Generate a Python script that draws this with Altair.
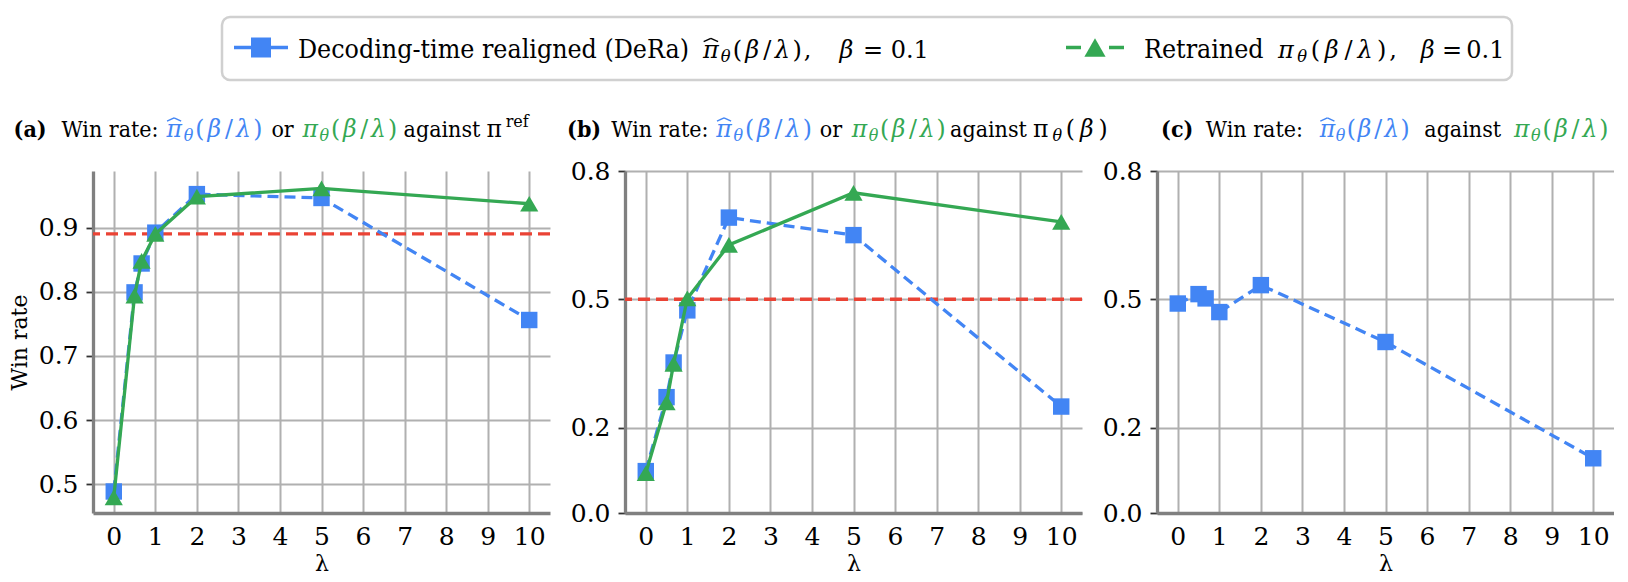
import altair as alt
import pandas as pd

# ---------------- data ----------------
lam = [0, 0.5, 0.67, 1, 2, 5, 10]
a_dera = [0.489, 0.799, 0.844, 0.892, 0.952, 0.946, 0.756]
a_retr = [0.480, 0.794, 0.848, 0.890, 0.948, 0.961, 0.937]
a_base = 0.890
b_dera = [0.098, 0.271, 0.352, 0.474, 0.691, 0.650, 0.249]
b_retr = [0.093, 0.259, 0.349, 0.502, 0.627, 0.749, 0.681]
b_base = 0.5
c_dera = [0.490, 0.512, 0.502, 0.470, 0.533, 0.400, 0.128]
x_ticks = list(range(11))
a_yticks = [0.5, 0.6, 0.7, 0.8, 0.9]
bc_yticks = [0.0, 0.2, 0.5, 0.8]
a_ydomain = [0.4555, 0.988]
bc_ydomain = [0.0, 0.8]

# ---------------- style ----------------
BLUE, GREEN, RED = "#4285F4", "#34A853", "#EA4335"
FONT = "DejaVu Serif"
FONT_W = "DejaVu Serif Condensed"
W, H = 457, 342
OX, OY = 93, 171          # page position of panel (a) plot origin

one = pd.DataFrame({"d": [0]})

words, words_b, g_it, g_up, hats = [], [], [], [], []


def word(t, x, base, size, bold=False, color="#000000"):
    (words_b if bold else words).append(dict(t=t, x=x - OX, y=base - OY, fs=size, c=color))


def math(parts, x0, x1, base, size, color="#000000"):
    tot = sum(w for _, k, w in parts if k != "hat")
    k_ = (x1 - x0) / tot
    x = x0
    last = None
    for t, kind, w in parts:
        if kind == "hat":
            hw, top, low = 0.30 * size, base - 0.80 * size, base - 0.66 * size
            hats.append(dict(x=last - hw - OX, y=low - OY, x2=last - OX, y2=top - OY, c=color))
            hats.append(dict(x=last - OX, y=top - OY, x2=last + hw - OX, y2=low - OY, c=color))
            continue
        cx = x + w * k_ / 2
        x += w * k_
        if kind == "gap":
            continue
        if kind == "sub":
            g_it.append(dict(t=t, x=cx - OX, y=base + 0.2 * size - OY, fs=size * 0.68, c=color))
        elif kind == "sup":
            g_up.append(dict(t=t, x=cx - OX, y=base - 0.42 * size - OY, fs=size * 0.68, c=color))
        elif kind == "it":
            g_it.append(dict(t=t, x=cx - OX, y=base - OY, fs=size, c=color))
        else:
            g_up.append(dict(t=t, x=cx - OX, y=base - OY, fs=size, c=color))
        last = cx


PIHAT = [("π", "it", .6), ("^", "hat", 0), ("θ", "sub", .4), ("(", "up", .4), ("β", "it", .6),
         ("/", "up", .42), ("λ", "it", .6), (")", "up", .4)]
PI = [p for p in PIHAT if p[1] != "hat"]
COMMA = [(",", "up", .3)]
BETA = [("β", "it", .6), ("", "gap", .25), ("=", "up", .8), ("", "gap", .25), ("0.1", "up", 1.3)]
PIREF = [("π", "up", .6), ("ref", "sup", .75)]
PIB = [("π", "up", .6), ("θ", "sub", .4), ("(", "up", .4), ("β", "it", .6), (")", "up", .4)]

# legend texts
LB, LS, LM = 57.5, 26.5, 24
word("Decoding-time realigned (DeRa)", 298, LB, LS)
math(PIHAT + COMMA, 702, 812, LB, LM)
math(BETA, 838, 928, LB, LM)
word("Retrained", 1144, LB, LS)
math(PI + COMMA, 1276, 1398, LB, LM)
math(BETA, 1420, 1502, LB, LM)

# panel titles
TB, TS, TM = 136.7, 23, 23.5
word("(a)", 13.6, TB, TS, bold=True)
word("Win rate:", 61.4, TB, TS)
math(PIHAT, 165.5, 263.6, TB, TM, BLUE)
word("or", 271.4, TB, TS)
math(PI, 301.8, 398.2, TB, TM, GREEN)
word("against", 403.6, TB, TS)
math(PIREF, 484, 530, TB, TM)

word("(b)", 567.1, TB, TS, bold=True)
word("Win rate:", 611.3, TB, TS)
math(PIHAT, 715.5, 812.9, TB, TM, BLUE)
word("or", 819.8, TB, TS)
math(PI, 851.1, 946.7, TB, TM, GREEN)
word("against", 950.1, TB, TS)
math(PIB, 1031, 1109.7, TB, TM)

word("(c)", 1161.1, TB, TS, bold=True)
word("Win rate:", 1205.8, TB, TS)
math(PIHAT, 1319.4, 1410.3, TB, TM, BLUE)
word("against", 1424.3, TB, TS)
math(PI, 1513.4, 1609.5, TB, TM, GREEN)


def text_layer(rows, font, **kw):
    return alt.Chart(pd.DataFrame(rows)).mark_text(font=font, baseline="alphabetic", **kw).encode(
        x=alt.X("x:Q", scale=None, axis=None),
        y=alt.Y("y:Q", scale=None, axis=None),
        text=alt.Text("t:N"),
        color=alt.Color("c:N", scale=None),
        size=alt.Size("fs:Q", scale=None),
    )


hat_layer = alt.Chart(pd.DataFrame(hats)).mark_rule(strokeWidth=1.4).encode(
    x=alt.X("x:Q", scale=None, axis=None), x2="x2:Q",
    y=alt.Y("y:Q", scale=None, axis=None), y2="y2:Q",
    color=alt.Color("c:N", scale=None))


def panel(series, ydomain, yticks, base=None, ytitle="", extra=()):
    xenc = alt.X("lam:Q", scale=alt.Scale(domain=[-0.5, 10.5], nice=False, zero=False),
                 axis=alt.Axis(values=x_ticks, format="d", title="λ", tickSize=0, labelPadding=11,
                               labelBaseline="top", titleX=W / 2, titleY=57.5, titleFontSize=22,
                               titleBaseline="alphabetic", titleAlign="center"))
    yax = dict(values=yticks, format=".1f", title=ytitle, tickSize=7, labelPadding=8)
    if ytitle:
        yax.update(titleX=-67, titleY=H / 2, titleBaseline="alphabetic", titleAlign="center",
                   titleFontSize=22)
    yenc = alt.Y("v:Q", scale=alt.Scale(domain=ydomain, nice=False, zero=False),
                 axis=alt.Axis(**yax))
    layers = []
    if base is not None:
        layers.append(alt.Chart(pd.DataFrame({"v": [base]})).mark_rule(
            color=RED, strokeWidth=3.3, strokeDash=[12, 6]).encode(y=yenc))
    for vals, color, dashed, shape, size in series:
        df = pd.DataFrame({"lam": lam, "v": vals})
        lkw = dict(color=color, strokeWidth=3.3)
        if dashed:
            lkw["strokeDash"] = [11, 6]
        layers.append(alt.Chart(df).mark_line(**lkw).encode(x=xenc, y=yenc))
        layers.append(alt.Chart(df).mark_point(shape=shape, filled=True, size=size, color=color,
                                               opacity=1).encode(x=xenc, y=yenc))
    layers.extend(extra)
    return alt.layer(*layers).properties(width=W, height=H)


anchor = alt.Chart(one).mark_rect(opacity=0).encode(
    x=alt.value(-85), x2=alt.value(-84), y=alt.value(-163), y2=alt.value(-162))
legend_box = alt.Chart(one).mark_rect(cornerRadius=8, fill="white", stroke="#d0d0d0",
                                      strokeWidth=2.5).encode(
    x=alt.value(222 - OX), x2=alt.value(1512 - OX), y=alt.value(17 - OY), y2=alt.value(80 - OY))
LMY = 47.5 - OY
leg_blue_line = alt.Chart(one).mark_rule(color=BLUE, strokeWidth=3.3).encode(
    x=alt.value(234 - OX), x2=alt.value(288 - OX), y=alt.value(LMY))
leg_blue_pt = alt.Chart(one).mark_point(shape="square", filled=True, size=400, color=BLUE,
                                        opacity=1).encode(x=alt.value(261 - OX), y=alt.value(LMY))
leg_green_line = alt.Chart(one).mark_rule(color=GREEN, strokeWidth=3.3, strokeDash=[15, 28]).encode(
    x=alt.value(1066 - OX), x2=alt.value(1124 - OX), y=alt.value(LMY))
leg_green_pt = alt.Chart(one).mark_point(shape="triangle-up", filled=True, size=450, color=GREEN,
                                         opacity=1).encode(x=alt.value(1095 - OX), y=alt.value(LMY))

annot = [anchor, legend_box, leg_blue_line, leg_blue_pt, leg_green_line, leg_green_pt,
         text_layer(words, FONT_W, align="left"),
         text_layer(words_b, FONT_W, align="left", fontWeight="bold"),
         text_layer(g_it, FONT, align="center", fontStyle="italic"),
         text_layer(g_up, FONT, align="center"),
         hat_layer]

pa = panel([(a_dera, BLUE, True, "square", 270), (a_retr, GREEN, False, "triangle-up", 330)],
           a_ydomain, a_yticks, base=a_base, ytitle="Win rate", extra=annot)
pb = panel([(b_dera, BLUE, True, "square", 270), (b_retr, GREEN, False, "triangle-up", 330)],
           bc_ydomain, bc_yticks, base=b_base)
pc = panel([(c_dera, BLUE, True, "square", 270)], bc_ydomain, bc_yticks)

chart = alt.hconcat(pa, pb, pc, spacing=75, bounds="flush").properties(
    padding=0, background="white"
).configure_view(strokeWidth=0).configure_axis(
    domainColor="#808080", domainWidth=3.3, gridColor="#b0b0b0", gridWidth=2, gridOpacity=1,
    tickColor="#333333", tickWidth=1.8, labelFont=FONT, labelFontSize=25, labelColor="#000000",
    titleFont=FONT, titleFontSize=22, titleFontWeight="normal", titleColor="#000000",
    labelFlush=False, labelOverlap=False
)

chart.save("out.html", embed_options={"renderer": "svg", "actions": False})
